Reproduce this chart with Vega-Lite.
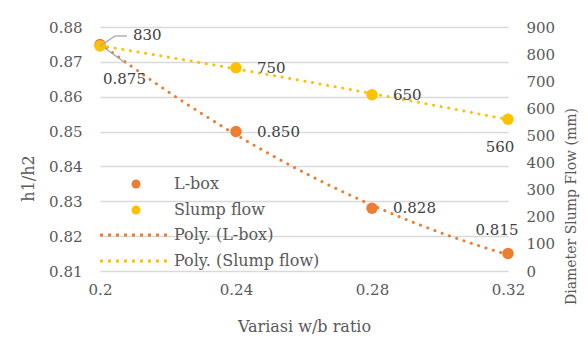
{
  "$schema": "https://vega.github.io/schema/vega-lite/v6.json",
  "width": 408,
  "height": 244,
  "autosize": {"type": "none"},
  "padding": {"left": 100, "top": 27, "right": 80, "bottom": 67},
  "background": "white",
  "config": {
    "view": {"stroke": null},
    "font": "DejaVu Serif",
    "axis": {
      "labelFont": "DejaVu Serif",
      "labelFontSize": 15,
      "labelColor": "#595959",
      "labelFlush": false,
      "titleFont": "DejaVu Serif",
      "titleFontSize": 16,
      "titleFontWeight": "normal",
      "titleColor": "#595959",
      "domain": false,
      "ticks": false,
      "grid": false
    },
    "legend": {
      "labelFont": "DejaVu Serif",
      "labelFontSize": 16,
      "labelColor": "#595959",
      "padding": 0
    }
  },
  "data": {
    "values": [
      {"w": 0.2, "lbox": 0.875, "slump": 830},
      {"w": 0.24, "lbox": 0.85, "slump": 750},
      {"w": 0.28, "lbox": 0.828, "slump": 650},
      {"w": 0.32, "lbox": 0.815, "slump": 560}
    ]
  },
  "encoding": {
    "x": {
      "field": "w",
      "type": "quantitative",
      "scale": {"domain": [0.2, 0.32], "nice": false, "zero": false},
      "axis": {
        "values": [0.2, 0.24, 0.28, 0.32],
        "format": "~g",
        "labelPadding": 11,
        "title": "Variasi w/b ratio",
        "titlePadding": 21
      }
    }
  },
  "layer": [
    {
      "encoding": {
        "y": {
          "field": "lbox",
          "type": "quantitative",
          "scale": {"domain": [0.81, 0.88], "nice": false, "zero": false},
          "axis": {
            "orient": "left",
            "values": [0.81, 0.82, 0.83, 0.84, 0.85, 0.86, 0.87, 0.88],
            "format": ".2f",
            "grid": true,
            "gridColor": "#d9d9d9",
            "gridWidth": 1.5,
            "labelPadding": 18,
            "title": "h1/h2",
            "titleY": 151,
            "titlePadding": 12
          }
        }
      },
      "layer": [
        {
          "transform": [
            {"regression": "lbox", "on": "w", "method": "poly", "order": 2, "extent": [0.2, 0.32]}
          ],
          "mark": {"type": "line", "strokeWidth": 3, "strokeCap": "round", "strokeDash": [0.1, 7.6]},
          "encoding": {
            "stroke": {
              "datum": "Poly. (L-box)",
              "type": "nominal",
              "scale": {"domain": ["Poly. (L-box)", "Poly. (Slump flow)"], "range": ["#ED7D31", "#FFC000"]},
              "legend": {
                "orient": "none",
                "legendX": 27,
                "legendY": 200,
                "title": null,
                "symbolType": "M-7,0H7",
                "symbolSize": 100,
                "symbolDash": [3, 5],
                "symbolStrokeWidth": 3,
                "labelOffset": 31,
                "rowPadding": 10
              }
            }
          }
        },
        {
          "mark": {"type": "point", "filled": true, "shape": "circle", "size": 130, "opacity": 1},
          "encoding": {
            "fill": {
              "datum": "L-box",
              "type": "nominal",
              "scale": {"domain": ["L-box", "Slump flow"], "range": ["#ED7D31", "#FFC000"]},
              "legend": {
                "orient": "none",
                "legendX": 28,
                "legendY": 149,
                "title": null,
                "symbolType": "circle",
                "symbolSize": 80,
                "labelOffset": 30,
                "rowPadding": 10
              }
            }
          }
        },
        {
          "transform": [{"filter": "datum.w < 0.21"}],
          "mark": {"type": "rule", "color": "#a6a6a6", "strokeWidth": 1.3, "x2Offset": 26, "y2Offset": 19},
          "encoding": {"x2": {"field": "w"}, "y2": {"field": "lbox"}}
        },
        {
          "transform": [{"filter": "datum.w > 0.21 && datum.w < 0.31"}],
          "mark": {"type": "text", "align": "left", "baseline": "middle", "dx": 21, "fontSize": 15, "color": "#404040"},
          "encoding": {"text": {"field": "lbox", "type": "quantitative", "format": ".3f"}}
        },
        {
          "transform": [{"filter": "datum.w < 0.21"}],
          "mark": {"type": "text", "align": "left", "baseline": "middle", "dx": 3, "dy": 35, "fontSize": 15, "color": "#404040"},
          "encoding": {"text": {"field": "lbox", "type": "quantitative", "format": ".3f"}}
        },
        {
          "transform": [{"filter": "datum.w > 0.31"}],
          "mark": {"type": "text", "align": "center", "baseline": "middle", "dx": -11, "dy": -24, "fontSize": 15, "color": "#404040"},
          "encoding": {"text": {"field": "lbox", "type": "quantitative", "format": ".3f"}}
        }
      ]
    },
    {
      "encoding": {
        "y": {
          "field": "slump",
          "type": "quantitative",
          "scale": {"domain": [0, 900], "nice": false},
          "axis": {
            "orient": "right",
            "values": [0, 100, 200, 300, 400, 500, 600, 700, 800, 900],
            "labelPadding": 18,
            "title": "Diameter Slump Flow (mm)",
            "titleFontSize": 14,
            "titleAngle": 270,
            "titleY": 179,
            "titlePadding": 24
          }
        }
      },
      "layer": [
        {
          "transform": [
            {"regression": "slump", "on": "w", "method": "poly", "order": 2, "extent": [0.2, 0.32]}
          ],
          "mark": {"type": "line", "strokeWidth": 3, "strokeCap": "round", "strokeDash": [0.1, 7.6]},
          "encoding": {"stroke": {"datum": "Poly. (Slump flow)", "type": "nominal"}}
        },
        {
          "mark": {"type": "point", "filled": true, "shape": "circle", "size": 130, "opacity": 1},
          "encoding": {"fill": {"datum": "Slump flow", "type": "nominal"}}
        },
        {
          "transform": [{"filter": "datum.w < 0.21"}],
          "mark": {"type": "rule", "color": "#a6a6a6", "strokeWidth": 1.3, "x2Offset": 15, "y2Offset": -10},
          "encoding": {"x2": {"field": "w"}, "y2": {"field": "slump"}}
        },
        {
          "transform": [{"filter": "datum.w < 0.21"}],
          "mark": {"type": "rule", "color": "#a6a6a6", "strokeWidth": 1.3, "xOffset": 15, "yOffset": -10, "x2Offset": 27, "y2Offset": -10},
          "encoding": {"x2": {"field": "w"}, "y2": {"field": "slump"}}
        },
        {
          "transform": [{"filter": "datum.w > 0.21 && datum.w < 0.31"}],
          "mark": {"type": "text", "align": "left", "baseline": "middle", "dx": 21, "fontSize": 15, "color": "#404040"},
          "encoding": {"text": {"field": "slump", "type": "quantitative"}}
        },
        {
          "transform": [{"filter": "datum.w < 0.21"}],
          "mark": {"type": "text", "align": "left", "baseline": "middle", "dx": 33, "dy": -11, "fontSize": 15, "color": "#404040"},
          "encoding": {"text": {"field": "slump", "type": "quantitative"}}
        },
        {
          "transform": [{"filter": "datum.w > 0.31"}],
          "mark": {"type": "text", "align": "center", "baseline": "middle", "dx": -8, "dy": 28, "fontSize": 15, "color": "#404040"},
          "encoding": {"text": {"field": "slump", "type": "quantitative"}}
        }
      ]
    }
  ],
  "resolve": {"scale": {"y": "independent"}}
}
